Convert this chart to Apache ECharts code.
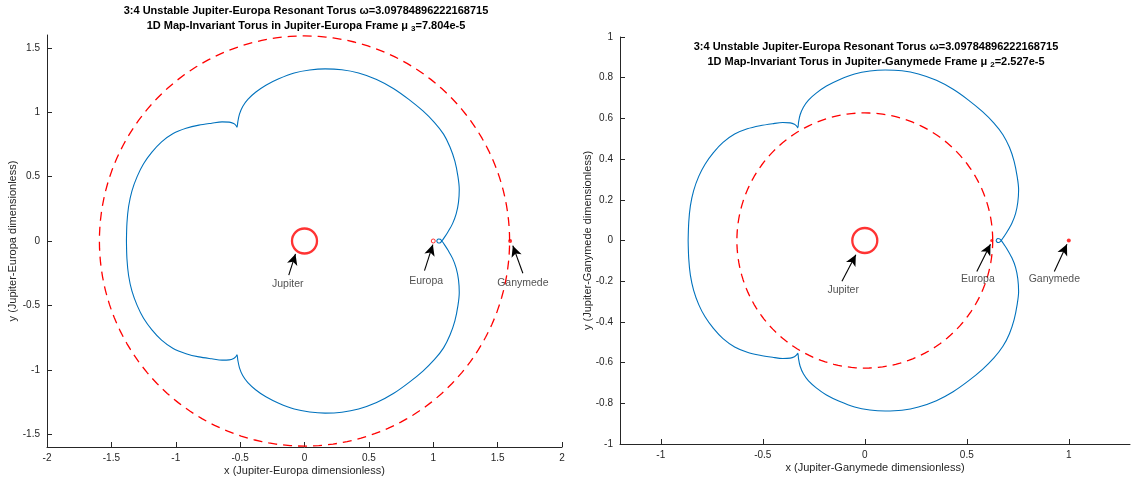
<!DOCTYPE html>
<html>
<head>
<meta charset="utf-8">
<script src="https://cdn.jsdelivr.net/npm/echarts@6/dist/echarts.min.js"></script>
<style>
html,body{margin:0;padding:0;background:#fff;}
#chart{width:1133px;height:482px;}
</style>
</head>
<body>
<div id="chart"></div>
<script>
// ---------------- DATA ----------------
// Torus curve in the Jupiter-Europa frame (x, y)
const torusJE = [
  [-1.383,0.00],[-1.379,0.14],[-1.366,0.27],[-1.340,0.39],[-1.300,0.50],[-1.250,0.60],[-1.185,0.69],
  [-1.110,0.77],[-1.020,0.835],[-0.920,0.875],[-0.820,0.90],[-0.720,0.915],[-0.640,0.925],[-0.585,0.923],
  [-0.550,0.912],[-0.533,0.898],[-0.524,0.884],
  [-0.518,0.925],[-0.505,0.985],[-0.480,1.045],[-0.440,1.100],[-0.380,1.155],[-0.300,1.210],[-0.200,1.260],
  [-0.080,1.305],[0.040,1.328],[0.160,1.337],[0.290,1.330],[0.420,1.305],[0.560,1.255],[0.690,1.185],
  [0.810,1.100],[0.920,1.010],[1.010,0.920],[1.080,0.830],[1.130,0.730],[1.168,0.620],[1.192,0.500],
  [1.202,0.400],[1.196,0.300],[1.178,0.210],[1.150,0.135],[1.115,0.072],[1.088,0.030],[1.070,0.004],
  [1.055,-0.013],[1.040,-0.016],[1.030,-0.008],[1.028,0.000],[1.030,0.008],[1.040,0.016],[1.055,0.013],
  [1.070,-0.004],[1.088,-0.030],[1.115,-0.072],[1.150,-0.135],[1.178,-0.210],[1.196,-0.300],[1.202,-0.400],
  [1.192,-0.500],[1.168,-0.620],[1.130,-0.730],[1.080,-0.830],[1.010,-0.920],[0.920,-1.010],[0.810,-1.100],
  [0.690,-1.185],[0.560,-1.255],[0.420,-1.305],[0.290,-1.330],[0.160,-1.337],[0.040,-1.328],[-0.080,-1.305],
  [-0.200,-1.260],[-0.300,-1.210],[-0.380,-1.155],[-0.440,-1.100],[-0.480,-1.045],[-0.505,-0.985],[-0.518,-0.925],
  [-0.524,-0.884],[-0.533,-0.898],[-0.550,-0.912],[-0.585,-0.923],[-0.640,-0.925],[-0.720,-0.915],[-0.820,-0.90],
  [-0.920,-0.875],[-1.020,-0.835],[-1.110,-0.77],[-1.185,-0.69],[-1.250,-0.60],[-1.300,-0.50],[-1.340,-0.39],
  [-1.366,-0.27],[-1.379,-0.14],[-1.383,0.00]
];
// Torus curve in the Jupiter-Ganymede frame
const torusJG = [
  [-0.866,0.00],[-0.863,0.09],[-0.855,0.17],[-0.839,0.245],[-0.814,0.315],[-0.783,0.375],[-0.742,0.432],
  [-0.695,0.482],[-0.638,0.523],[-0.576,0.549],[-0.514,0.564],[-0.452,0.574],[-0.402,0.580],[-0.366,0.578],
  [-0.345,0.571],[-0.334,0.562],[-0.328,0.554],
  [-0.325,0.580],[-0.317,0.618],[-0.301,0.655],[-0.276,0.690],[-0.238,0.724],[-0.188,0.759],[-0.125,0.790],
  [-0.050,0.818],[0.025,0.833],[0.100,0.838],[0.182,0.834],[0.263,0.818],[0.351,0.787],[0.433,0.743],
  [0.508,0.690],[0.577,0.633],[0.633,0.577],[0.677,0.520],[0.709,0.458],[0.732,0.389],[0.747,0.314],
  [0.754,0.251],[0.750,0.188],[0.739,0.132],[0.721,0.085],[0.699,0.045],[0.682,0.019],[0.671,0.003],
  [0.661,-0.008],[0.652,-0.010],[0.646,-0.005],[0.644,0.000],[0.646,0.005],[0.652,0.010],[0.661,0.008],
  [0.671,-0.003],[0.682,-0.019],[0.699,-0.045],[0.721,-0.085],[0.739,-0.132],[0.750,-0.188],[0.754,-0.251],
  [0.747,-0.314],[0.732,-0.389],[0.709,-0.458],[0.677,-0.520],[0.633,-0.577],[0.577,-0.633],[0.508,-0.690],
  [0.433,-0.743],[0.351,-0.787],[0.263,-0.818],[0.182,-0.834],[0.100,-0.838],[0.025,-0.833],[-0.050,-0.818],
  [-0.125,-0.790],[-0.188,-0.759],[-0.238,-0.724],[-0.276,-0.690],[-0.301,-0.655],[-0.317,-0.618],[-0.325,-0.580],
  [-0.328,-0.554],[-0.334,-0.562],[-0.345,-0.571],[-0.366,-0.578],[-0.402,-0.580],[-0.452,-0.574],[-0.514,-0.564],
  [-0.576,-0.549],[-0.638,-0.523],[-0.695,-0.482],[-0.742,-0.432],[-0.783,-0.375],[-0.814,-0.315],[-0.839,-0.245],
  [-0.855,-0.17],[-0.863,-0.09],[-0.866,0.00]
];
// Orbit radii (dashed circles)
const ganymedeOrbitRadiusJE = [1.593];
const europaOrbitRadiusJG = [0.627];
// Body positions
const bodiesJE = { Jupiter: [0, 0], Europa: [1.0, 0], Ganymede: [1.597, 0] };
const bodiesJG = { Jupiter: [0, 0], Europa: [0.622, 0], Ganymede: [1.0, 0] };
// Tick labels
const xTicksJE = [-2,-1.5,-1,-0.5,0,0.5,1,1.5,2];
const yTicksJE = [-1.5,-1,-0.5,0,0.5,1,1.5];
const xTicksJG = [-1,-0.5,0,0.5,1];
const yTicksJG = [-1,-0.8,-0.6,-0.4,-0.2,0,0.2,0.4,0.6,0.8,1];
// Annotations: [label, textPos, arrowTail, arrowHead]
const notesJE = [
  ['Jupiter',  [-0.130,-0.336], [-0.122,-0.265], [-0.070,-0.100]],
  ['Europa',   [0.945,-0.311],  [0.932,-0.230],  [0.997,-0.028]],
  ['Ganymede', [1.696,-0.329],  [1.696,-0.250],  [1.618,-0.036]]
];
const notesJG = [
  ['Jupiter',  [-0.106,-0.244], [-0.112,-0.200], [-0.044,-0.070]],
  ['Europa',   [0.554,-0.191],  [0.549,-0.152],  [0.616,-0.018]],
  ['Ganymede', [0.929,-0.191],  [0.929,-0.152],  [0.991,-0.018]]
];

// ---------------- CHART ----------------
const FONT = "'Liberation Sans', Arial, Helvetica, sans-serif";
const AX = '#262626';
const BLUE = '#0072BD';
const RED = '#FF0000';

function ring(r) {
  const pts = [];
  for (let i = 0; i <= 360; i += 2) {
    const a = i * Math.PI / 180;
    pts.push([r * Math.cos(a), r * Math.sin(a)]);
  }
  return pts;
}

function xAxisCfg(idx, min, max, ticks, name) {
  return {
    gridIndex: idx, type: 'value', min: min, max: max,
    name: name, nameLocation: 'middle', nameGap: 18, nameMoveOverlap: false,
    nameTextStyle: { fontFamily: FONT, fontSize: 11, color: AX },
    axisLine: { show: true, onZero: false, lineStyle: { color: AX, width: 1 } },
    axisTick: { show: true, inside: true, length: 5, customValues: ticks, lineStyle: { color: AX } },
    axisLabel: { show: true, customValues: ticks, fontFamily: FONT, fontSize: 10, color: AX, margin: 6 },
    splitLine: { show: false }
  };
}
function yAxisCfg(idx, min, max, ticks, name, gap) {
  return {
    gridIndex: idx, type: 'value', min: min, max: max,
    name: name, nameLocation: 'middle', nameGap: gap, nameRotate: 90, nameMoveOverlap: false,
    nameTextStyle: { fontFamily: FONT, fontSize: 11, color: AX },
    axisLine: { show: true, onZero: false, lineStyle: { color: AX, width: 1 } },
    axisTick: { show: true, inside: true, length: 5, customValues: ticks, lineStyle: { color: AX } },
    axisLabel: { show: true, customValues: ticks, fontFamily: FONT, fontSize: 10, color: AX, margin: 7 },
    splitLine: { show: false }
  };
}

function panelSeries(idx, torus, radius, bodies, notes) {
  const s = [];
  s.push({
    type: 'line', xAxisIndex: idx, yAxisIndex: idx, data: ring(radius),
    showSymbol: false, symbol: 'none', smooth: false, silent: true,
    lineStyle: { color: RED, width: 1.3, type: [9, 6] }, z: 2
  });
  s.push({
    type: 'line', xAxisIndex: idx, yAxisIndex: idx, data: torus,
    showSymbol: false, symbol: 'none', smooth: 0.3, silent: true,
    lineStyle: { color: BLUE, width: 1.1 }, z: 3
  });
  s.push({
    type: 'scatter', xAxisIndex: idx, yAxisIndex: idx, silent: true, z: 4,
    data: [bodies.Jupiter], symbol: 'circle', symbolSize: 25,
    itemStyle: { color: 'rgba(0,0,0,0)', borderColor: RED, borderWidth: 2.3 }
  });
  s.push({
    type: 'scatter', xAxisIndex: idx, yAxisIndex: idx, silent: true, z: 4,
    data: [bodies.Europa], symbol: 'circle', symbolSize: idx === 0 ? 4 : 3,
    itemStyle: idx === 0 ? { color: '#fff', borderColor: RED, borderWidth: 1 } : { color: RED }
  });
  s.push({
    type: 'scatter', xAxisIndex: idx, yAxisIndex: idx, silent: true, z: 4,
    data: [bodies.Ganymede], symbol: 'circle', symbolSize: 4,
    itemStyle: { color: RED }
  });
  s.push({
    type: 'scatter', xAxisIndex: idx, yAxisIndex: idx, silent: true, z: 5,
    symbolSize: 0,
    data: notes.map(n => ({ value: n[1], name: n[0] })),
    label: { show: true, position: 'inside', formatter: p => p.name,
      fontFamily: FONT, fontSize: 10.5, color: AX },
    markLine: {
      silent: true, animation: false,
      symbol: ['none', 'arrow'], symbolSize: [8, 11],
      label: { show: false },
      lineStyle: { color: '#000', width: 1.1, type: 'solid' },
      data: notes.map(n => [{ coord: n[2] }, { coord: n[3] }])
    }
  });
  return s;
}

const chart = echarts.init(document.getElementById('chart'), null, { renderer: 'canvas' });
const titleRich = {
  sub: { fontFamily: FONT, fontSize: 8, fontWeight: 'bold', color: '#000', lineHeight: 8, verticalAlign: 'bottom', padding: [0, 0, 0, 3] }
};
chart.setOption({
  animation: false,
  backgroundColor: '#fff',
  title: [
    {
      text: '3:4 Unstable Jupiter-Europa Resonant Torus ω=3.09784896222168715\n1D Map-Invariant Torus in Jupiter-Europa Frame μ{sub|3}=7.804e-5',
      left: 306, top: 3, padding: 0, textAlign: 'center',
      textStyle: { fontFamily: FONT, fontSize: 11, fontWeight: 'bold', color: '#000', lineHeight: 15, rich: titleRich }
    },
    {
      text: '3:4 Unstable Jupiter-Europa Resonant Torus ω=3.09784896222168715\n1D Map-Invariant Torus in Jupiter-Ganymede Frame μ{sub|2}=2.527e-5',
      left: 876, top: 39, padding: 0, textAlign: 'center',
      textStyle: { fontFamily: FONT, fontSize: 11, fontWeight: 'bold', color: '#000', lineHeight: 15, rich: titleRich }
    }
  ],
  grid: [
    { left: 47, top: 35, width: 515, height: 412, containLabel: false },
    { left: 620, top: 37, width: 510, height: 407, containLabel: false }
  ],
  xAxis: [
    xAxisCfg(0, -2, 2, xTicksJE, 'x (Jupiter-Europa dimensionless)'),
    xAxisCfg(1, -1.2, 1.3, xTicksJG, 'x (Jupiter-Ganymede dimensionless)')
  ],
  yAxis: [
    yAxisCfg(0, -1.6, 1.6, yTicksJE, 'y (Jupiter-Europa dimensionless)', 29),
    yAxisCfg(1, -1, 1, yTicksJG, 'y (Jupiter-Ganymede dimensionless)', 27)
  ],
  series: [].concat(
    panelSeries(0, torusJE, ganymedeOrbitRadiusJE[0], bodiesJE, notesJE),
    panelSeries(1, torusJG, europaOrbitRadiusJG[0], bodiesJG, notesJG)
  )
});
</script>
</body>
</html>
